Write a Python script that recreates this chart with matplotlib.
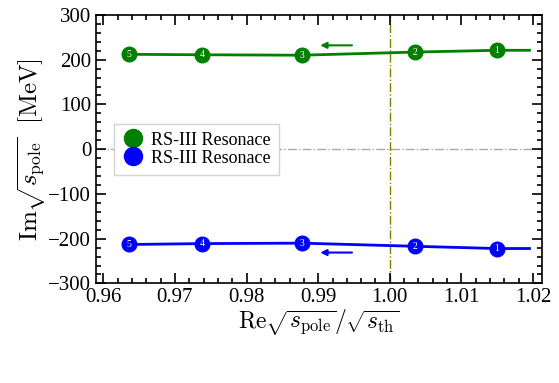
import numpy as np
import matplotlib
matplotlib.use('Agg')
import matplotlib.pyplot as plt
from matplotlib.ticker import MultipleLocator

# pole trajectory, point labels 1..5 plus line end
re_pole = [1.0195, 1.0149, 1.0035, 0.9877, 0.9738, 0.9636]
im_upper = [221, 221, 217, 210, 211, 212]
im_lower = [-222, -222, -217, -210, -211, -213]
point_labels = ['', '1', '2', '3', '4', '5']

plt.rcParams['font.family'] = ['Liberation Serif', 'DejaVu Serif']
plt.rcParams['mathtext.fontset'] = 'cm'

fig, ax = plt.subplots(figsize=(5.59, 3.83), dpi=100)
fig.subplots_adjust(left=0.172, right=0.969, top=0.961, bottom=0.26)

ax.axhline(0, color='darkgray', ls='-.', lw=1.0, zorder=1)
ax.axvline(1.0, color='olive', ls='-.', lw=1.0, zorder=1)

ax.plot(re_pole, im_upper, color='green', lw=2, zorder=2)
ax.plot(re_pole, im_lower, color='blue', lw=2, zorder=2)

for x, yu, yl, lab in zip(re_pole, im_upper, im_lower, point_labels):
    if not lab:
        continue
    ax.plot(x, yu, 'o', color='green', ms=10.5, zorder=3)
    ax.plot(x, yl, 'o', color='blue', ms=10.5, zorder=3)
    ax.text(x, yu, lab, color='white', fontsize=7, ha='center', va='center', zorder=4)
    ax.text(x, yl, lab, color='white', fontsize=7, ha='center', va='center', zorder=4)

# direction arrows
ax.annotate('', xy=(0.9899, 232), xytext=(0.9951, 232),
            arrowprops=dict(arrowstyle='-|>', color='green', lw=1.5, mutation_scale=9))
ax.annotate('', xy=(0.9899, -231), xytext=(0.9951, -231),
            arrowprops=dict(arrowstyle='-|>', color='blue', lw=1.5, mutation_scale=9))

# legend handles
ax.plot([], [], 'o', color='green', ms=13, label='RS-III Resonace')
ax.plot([], [], 'o', color='blue', ms=13, label='RS-III Resonace')
leg = ax.legend(loc='center left', bbox_to_anchor=(0.02, 0.5), fontsize=13,
                fancybox=False, framealpha=1, edgecolor='lightgray',
                handletextpad=0.4, borderpad=0.45, labelspacing=0.05, handlelength=1.2)

ax.set_xlim(0.959, 1.0212)
ax.set_ylim(-300, 300)
ax.xaxis.set_major_locator(MultipleLocator(0.01))
ax.xaxis.set_minor_locator(MultipleLocator(0.002))
ax.yaxis.set_major_locator(MultipleLocator(100))
ax.yaxis.set_minor_locator(MultipleLocator(20))
ax.xaxis.set_major_formatter(matplotlib.ticker.FormatStrFormatter('%.2f'))
ax.tick_params(which='both', direction='in', top=True, right=True, labelsize=15, width=1.2)
ax.tick_params(which='major', length=7)
ax.tick_params(which='minor', length=3.5)
for s in ax.spines.values():
    s.set_linewidth(1.2)

ax.set_xlabel(r'$\mathrm{Re}\sqrt{s_{\rm pole}}/\sqrt{s_{\rm th}}$', fontsize=17, labelpad=0)
ax.set_ylabel(r'$\mathrm{Im}\sqrt{s_{\rm pole}}\ \ [\mathrm{MeV}]$', fontsize=18, labelpad=0)

fig.savefig('out.png', dpi=100)
